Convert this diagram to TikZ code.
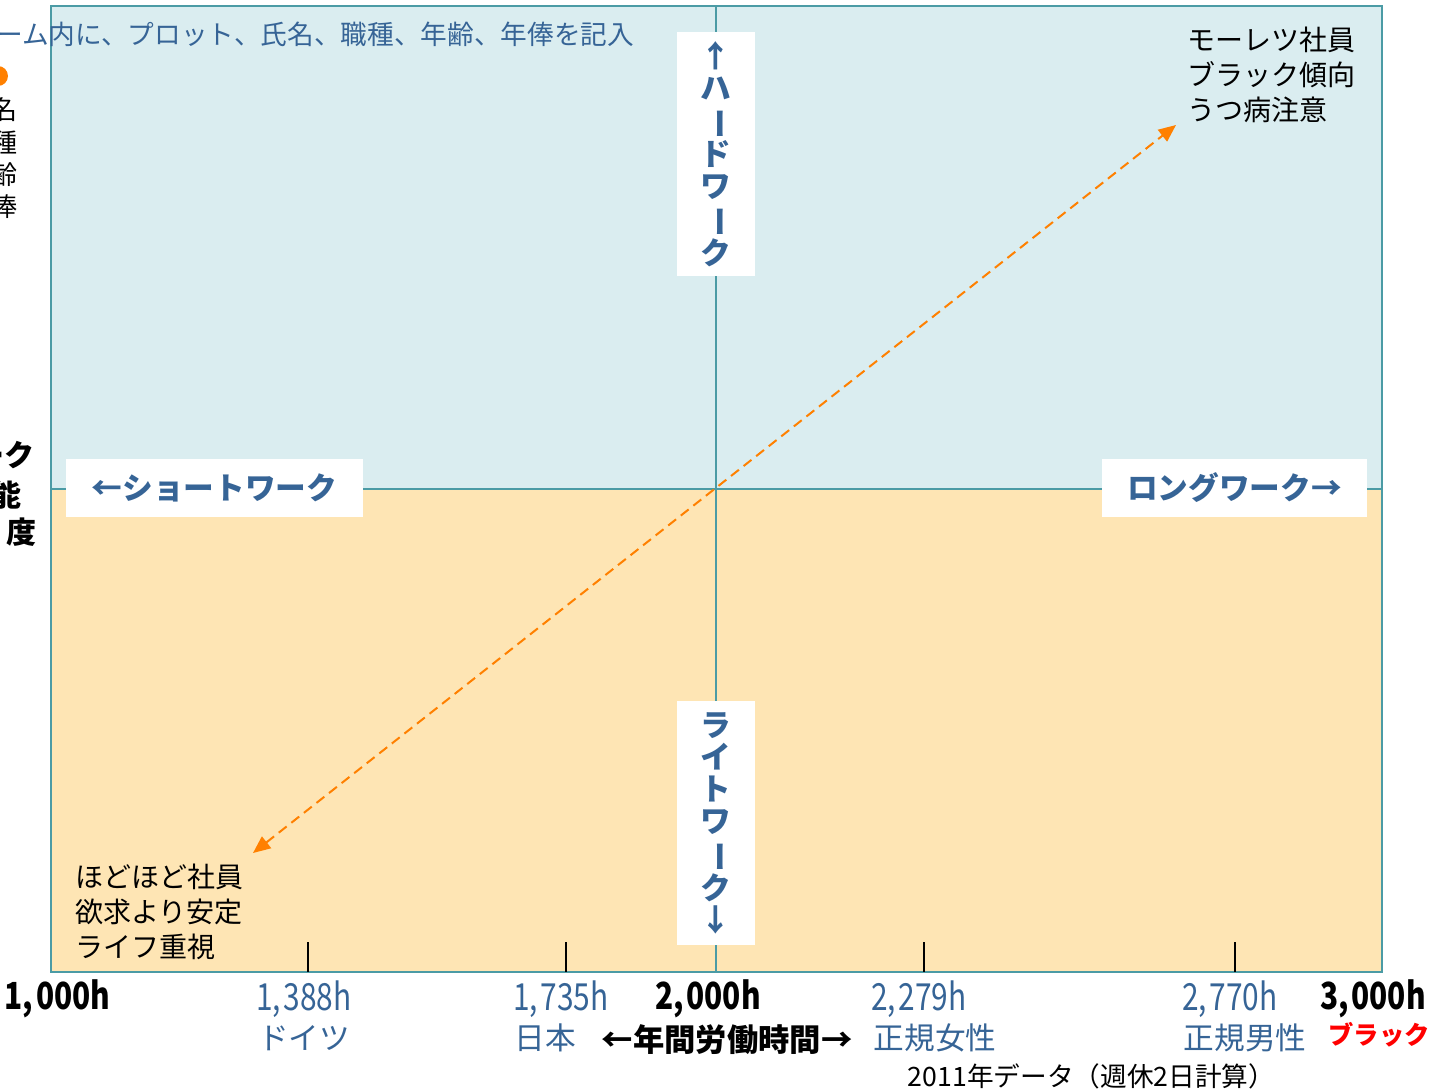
\documentclass[tikz,border=0pt]{standalone}
\usepackage{fontspec}
\setmainfont{Noto Sans CJK JP}
\usepackage{graphicx}
\usepackage{xcolor}
\usepackage{tikz}
\usetikzlibrary{arrows.meta}

\definecolor{frameTeal}{RGB}{75,155,165}
\definecolor{upperBlue}{RGB}{218,237,240}
\definecolor{lowerOrange}{RGB}{254,229,180}
\definecolor{labelBlue}{RGB}{54,100,150}
\definecolor{arrowOrange}{RGB}{255,128,0}
\definecolor{blackRed}{RGB}{255,0,0}

\newcommand{\narrow}[1]{\scalebox{0.8}[1]{#1}}
\newcommand{\vbar}{\rotatebox[origin=c]{-90}{ー}}

\begin{document}
\begin{tikzpicture}[x=0.75pt,y=0.75pt,yscale=-1,xscale=1,
    workbox/.style={fill=white,inner sep=0pt,text=labelBlue,font=\fontsize{23}{24}\selectfont\bfseries},
    hrs/.style={inner sep=0.75pt,font=\fontsize{28}{30}\selectfont},
    place/.style={inner sep=0.75pt,text=labelBlue,font=\fontsize{23}{26}\selectfont}]
        \useasboundingbox (0,0) rectangle (1432,1089);

        %Shape: Rectangle [upper half]
        \draw  [draw=none,fill=upperBlue] (51,6) rectangle (1382,489) ;
        %Shape: Rectangle [lower half]
        \draw  [draw=none,fill=lowerOrange] (51,489) rectangle (1382,972) ;
        %Straight Lines [middle]
        \draw [color=frameTeal,line width=1.5]   (51,489) -- (1382,489) ;
        \draw [color=frameTeal,line width=1.5]   (716,6) -- (716,972) ;
        %Shape: Rectangle [frame]
        \draw  [color=frameTeal,line width=1.5] (51,6) rectangle (1382,972) ;
        %Straight Lines [ticks]
        \foreach \tx in {308,566,924,1235}
            \draw [line width=1.1]   (\tx,942) -- (\tx,972) ;

        % Text Node
        \draw (716,154) node [workbox,minimum width=58.5pt,minimum height=183pt,align=center] (hard) {↑\\ハ\\\vbar\\ド\\ワ\\\vbar\\ク};
        % Text Node
        \draw (716,823) node [workbox,minimum width=58.5pt,minimum height=183pt,align=center] (light) {ラ\\イ\\ト\\ワ\\\vbar\\ク\\↓};
        % Text Node
        \draw (214.5,488) node [workbox,minimum width=222.75pt,minimum height=43.5pt] (short) {←ショートワーク};
        % Text Node
        \draw (1234.5,488) node [workbox,minimum width=198.75pt,minimum height=43.5pt] (long) {ロングワーク→};

        % Text Node
        \draw (1187,75) node [anchor=west,align=left,inner sep=0pt,font=\fontsize{21}{26.25}\selectfont] (moretsu) {モーレツ社員\\ブラック傾向\\うつ病注意};
        % Text Node
        \draw (75,912) node [anchor=west,align=left,inner sep=0pt,font=\fontsize{21}{26.25}\selectfont] (hodo) {ほどほど社員\\欲求より安定\\ライフ重視};

        %Curve Lines [dashed arrow]
        \coordinate (arrS) at (253,853);
        \coordinate (arrE) at (1176,125);
        \draw [color=arrowOrange,line width=1.5,dash pattern=on 7.5pt off 4.5pt,{Triangle[length=13pt,width=11pt]}-{Triangle[length=13pt,width=11pt]}]   (arrS) -- (arrE) ;

        % Text Node
        \draw (-4,34) node [anchor=west,inner sep=0pt,text=labelBlue,font=\fontsize{20}{22}\selectfont] (note) {ーム内に、プロット、氏名、職種、年齢、年俸を記入};
        %Shape: Circle
        \draw  [draw=none,fill=arrowOrange] (-2,76) circle (7.5pt) ;
        % Text Node
        \draw (5,110) node [inner sep=0pt,font=\fontsize{19.5}{22}\selectfont] (nm) {名};
        \draw (5,143) node [inner sep=0pt,font=\fontsize{19.5}{22}\selectfont] (job) {種};
        \draw (5,175) node [inner sep=0pt,font=\fontsize{19.5}{22}\selectfont] (age) {齢};
        \draw (5,207) node [inner sep=0pt,font=\fontsize{19.5}{22}\selectfont] (pay) {俸};
        % Text Node
        \draw (35,455) node [anchor=east,inner sep=0pt,font=\fontsize{22.5}{24}\selectfont\bfseries] (yl1) {ーク};
        \draw (22,495) node [anchor=east,inner sep=0pt,font=\fontsize{22.5}{24}\selectfont\bfseries] (yl2) {能};
        \draw (37,532) node [anchor=east,inner sep=0pt,font=\fontsize{22.5}{24}\selectfont\bfseries] (yl3) {度};

        % Text Node
        \draw (57.5,999) node [hrs,font=\fontsize{28}{30}\selectfont\bfseries] (h1000) {\narrow{1,\kern2.5pt000h}};
        \draw (304,999) node [hrs,text=labelBlue] (h1388) {\narrow{1,\kern2.5pt388h}};
        \draw (561,999) node [hrs,text=labelBlue] (h1735) {\narrow{1,\kern2.5pt735h}};
        \draw (708,999) node [hrs,font=\fontsize{28}{30}\selectfont\bfseries] (h2000) {\narrow{2,\kern2.5pt000h}};
        \draw (919,999) node [hrs,text=labelBlue] (h2279) {\narrow{2,\kern2.5pt279h}};
        \draw (1230,999) node [hrs,text=labelBlue] (h2770) {\narrow{2,\kern2.5pt770h}};
        \draw (1373,999) node [hrs,font=\fontsize{28}{30}\selectfont\bfseries] (h3000) {\narrow{3,\kern2.5pt000h}};
        % Text Node
        \draw (304,1038) node [place] (de) {ドイツ};
        \draw (545,1038) node [place] (jp) {日本};
        \draw (727,1040) node [inner sep=0.75pt,font=\fontsize{23.5}{24}\selectfont\bfseries] (axis) {←年間労働時間→};
        \draw (935,1038) node [place] (fem) {正規女性};
        \draw (1245,1038) node [place] (mal) {正規男性};
        \draw (1379,1035) node [inner sep=0.75pt,text=blackRed,font=\fontsize{19}{20}\selectfont\bfseries] (black) {ブラック};
        % Text Node
        \draw (1091.5,1076) node [inner sep=0.75pt,font=\fontsize{20}{22}\selectfont] (src) {2011年データ（週休2日計算）};

\end{tikzpicture}
\end{document}
